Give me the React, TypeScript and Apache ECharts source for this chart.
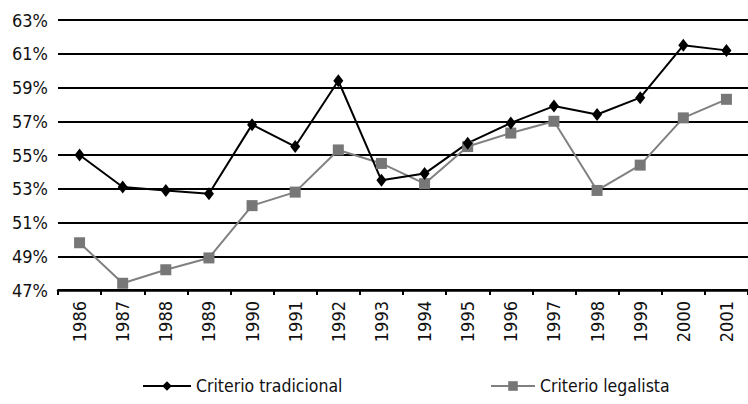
import React, { useEffect, useRef } from "react";
import * as echarts from "echarts";

const years = ["1986","1987","1988","1989","1990","1991","1992","1993","1994","1995","1996","1997","1998","1999","2000","2001"];
const tradicional = [55.0, 53.1, 52.9, 52.7, 56.8, 55.5, 59.4, 53.5, 53.9, 55.7, 56.9, 57.9, 57.4, 58.4, 61.5, 61.2];
const legalista = [49.8, 47.4, 48.2, 48.9, 52.0, 52.8, 55.3, 54.5, 53.3, 55.5, 56.3, 57.0, 52.9, 54.4, 57.2, 58.3];
const seriesNames = ["Criterio tradicional", "Criterio legalista"];

const FONT = "'DejaVu Sans Condensed', 'Liberation Sans', sans-serif";

export default function App() {
  const ref = useRef<HTMLDivElement>(null);
  useEffect(() => {
    const chart = echarts.init(ref.current!, null, { renderer: "svg" });
    chart.setOption({
      animation: false,
      backgroundColor: "#fff",
      grid: { left: 58, top: 20, width: 696, bottom: 114, containLabel: false },
      xAxis: {
        type: "category",
        data: years,
        boundaryGap: true,
        axisLine: { show: true, lineStyle: { color: "#000", width: 2.5 } },
        axisTick: { show: true, length: 5, interval: 0, lineStyle: { color: "#000", width: 2 } },
        axisLabel: { rotate: 90, interval: 0, margin: 11, color: "#111", fontFamily: FONT, fontSize: 18 },
        splitLine: { show: false },
      },
      yAxis: {
        type: "value",
        min: 47,
        max: 63,
        interval: 2,
        axisLine: { show: false },
        axisTick: { show: false },
        axisLabel: { formatter: "{value}%", margin: 10, color: "#111", fontFamily: FONT, fontSize: 18 },
        splitLine: { show: true, lineStyle: { color: "#000", width: 2 } },
      },
      legend: [
        {
          data: [seriesNames[0]],
          left: 137,
          top: 372,
          itemWidth: 48,
          itemHeight: 12,
          itemGap: 6,
          textStyle: { fontFamily: FONT, fontSize: 17.5, color: "#111" },
        },
        {
          data: [seriesNames[1]],
          left: 485,
          top: 372,
          itemWidth: 44,
          itemHeight: 12,
          itemGap: 6,
          textStyle: { fontFamily: FONT, fontSize: 17.5, color: "#111" },
        },
      ],
      series: [
        {
          name: seriesNames[1],
          type: "line",
          data: legalista,
          symbol: "rect",
          symbolSize: 11,
          itemStyle: { color: "#777" },
          lineStyle: { color: "#808080", width: 2 },
        },
        {
          name: seriesNames[0],
          type: "line",
          data: tradicional,
          symbol: "diamond",
          symbolSize: [10, 13],
          itemStyle: { color: "#000" },
          lineStyle: { color: "#000", width: 2 },
        },
      ],
    });
    return () => chart.dispose();
  }, []);
  return <div ref={ref} style={{ width: 748, height: 404, position: "absolute", left: 0, top: 0 }} />;
}
